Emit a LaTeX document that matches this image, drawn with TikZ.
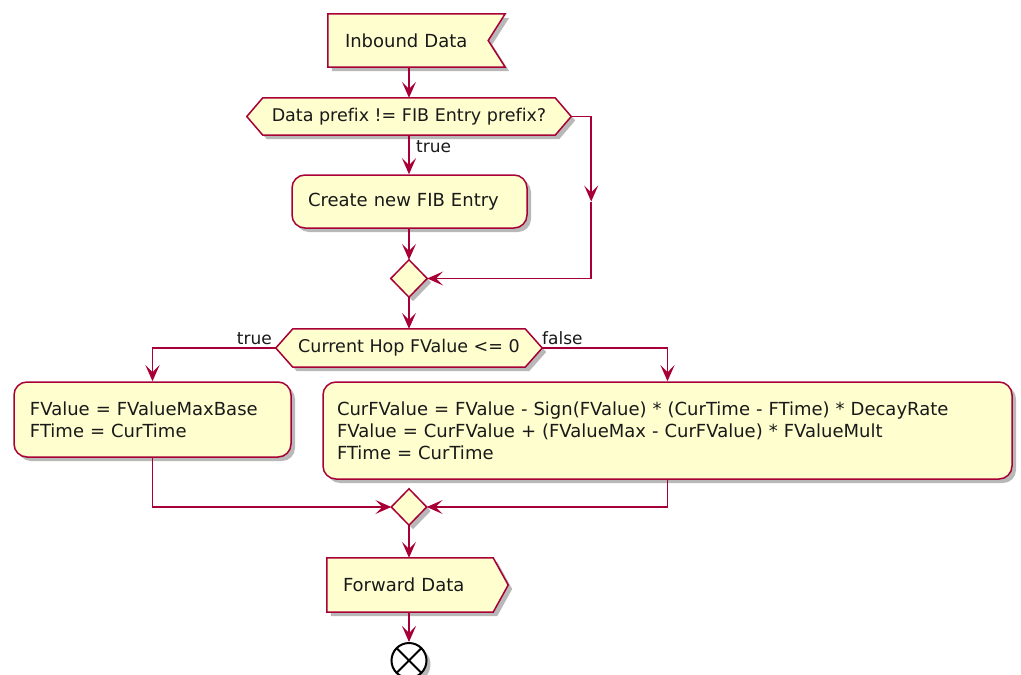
\documentclass[tikz,border=0pt]{standalone}
\usepackage{fontspec}
\setmainfont[Ligatures=NoCommon]{DejaVu Sans}
\usetikzlibrary{arrows.meta,shadows,calc,backgrounds}
\definecolor{pred}{HTML}{A80036}
\definecolor{pfill}{HTML}{FEFECE}
\begin{document}
\begin{tikzpicture}[x=1pt,y=-1pt,
  shadowed/.style={drop shadow={shadow xshift=4pt,shadow yshift=-4pt,opacity=0.28,fill=black}},
  shp/.style={draw=pred,fill=pfill,line width=1.5pt,line join=miter,shadowed},
  txt/.style={font=\fontsize{18}{22}\selectfont,text=black!90,inner ysep=0pt},
  dtxt/.style={font=\fontsize{17.5}{20}\selectfont,text=black!90,inner sep=0pt},
  lbl/.style={font=\fontsize{17}{20}\selectfont,text=black!90,inner sep=0pt},
  rbox/.style={shp,rounded corners=13pt,align=left},
  arr/.style={draw=pred,line width=1.5pt,-{Stealth[length=16pt,width=14pt,inset=7pt]}}]
\useasboundingbox (0,0) rectangle (1021,675);

% nodes
\node[txt,minimum width=177pt,minimum height=53pt,inner xsep=17pt,text width=143pt,align=left] (inb) at (416.5,40.5) {Inbound Data};
\node[dtxt,minimum width=324pt,minimum height=37pt] (d1) at (409,116.5) {Data prefix != FIB Entry prefix?};
\node[txt,rbox,minimum width=235pt,minimum height=53pt,inner xsep=16pt,text width=203pt] (cr) at (409.5,201.5) {Create new FIB Entry};
\node[minimum width=36pt,minimum height=37pt,inner sep=0pt] (m1) at (409,278.5) {};
\node[dtxt,minimum width=266pt,minimum height=38pt] (d2) at (409,348) {Current Hop FValue <= 0};
\node[txt,rbox,minimum width=277pt,minimum height=75pt,inner xsep=16pt,text width=245pt] (lb) at (152.5,419.5) {FValue = FValueMaxBase\\FTime = CurTime};
\node[txt,rbox,minimum width=689pt,minimum height=97pt,inner xsep=14pt,text width=661pt] (rb) at (667.5,430.5) {CurFValue = FValue - Sign(FValue) * (CurTime - FTime) * DecayRate\\FValue = CurFValue + (FValueMax - CurFValue) * FValueMult\\FTime = CurTime};
\node[minimum width=35pt,minimum height=36pt,inner sep=0pt] (m2) at (409,507) {};
\node[txt,minimum width=166pt,minimum height=54pt,inner xsep=16pt,text width=134pt,align=left] (fwd) at (410,585) {Forward Data};
\node[circle,draw=black,fill=white,line width=2pt,minimum size=35pt,inner sep=0pt,shadowed,
  path picture={\draw[black,line width=2pt] (path picture bounding box.north west) -- (path picture bounding box.south east) (path picture bounding box.north east) -- (path picture bounding box.south west);}] (end) at (409,660.5) {};

% labels
\node[lbl,anchor=west] (t1) at (416,147) {true};
\node[lbl,anchor=east] (t2) at (272,339) {true};
\node[lbl,anchor=west] (f2) at (542,338) {false};

% outlines of special shapes
\begin{scope}[on background layer]
\path[shp] (inb.north west) -- (inb.north east) -- ($(inb.east)+(-17,0)$) -- (inb.south east) -- (inb.south west) -- cycle;
\path[shp] (d1.west) -- ($(d1.north west)+(16,0)$) -- ($(d1.north east)+(-16,0)$) -- (d1.east) -- ($(d1.south east)+(-16,0)$) -- ($(d1.south west)+(16,0)$) -- cycle;
\path[shp] (m1.north) -- (m1.east) -- (m1.south) -- (m1.west) -- cycle;
\path[shp] (d2.west) -- ($(d2.north west)+(17,0)$) -- ($(d2.north east)+(-17,0)$) -- (d2.east) -- ($(d2.south east)+(-17,0)$) -- ($(d2.south west)+(17,0)$) -- cycle;
\path[shp] (m2.north) -- (m2.east) -- (m2.south) -- (m2.west) -- cycle;
\path[shp] (fwd.north west) -- (fwd.north east) -- ($(fwd.east)+(15,0)$) -- (fwd.south east) -- (fwd.south west) -- cycle;
\end{scope}

% connectors
\draw[arr] (inb.south -| d1.north) -- (d1.north);
\draw[arr] (d1.south) -- (d1.south |- cr.north);
\coordinate (c1) at ($(d1.east |- cr.center)+(20,0)$);
\draw[arr] (d1.east) -| (c1);
\draw[arr] (c1) |- (m1.east);
\draw[arr] (cr.south -| m1.north) -- (m1.north);
\draw[arr] (m1.south) -- (d2.north);
\draw[arr] (d2.west) -| (lb.north);
\draw[arr] (d2.east) -| (rb.north);
\draw[arr] (lb.south) |- (m2.west);
\draw[arr] (rb.south) |- (m2.east);
\draw[arr] (m2.south) -- (m2.south |- fwd.north);
\draw[arr] (fwd.south -| end.north) -- (end.north);
\end{tikzpicture}
\end{document}
